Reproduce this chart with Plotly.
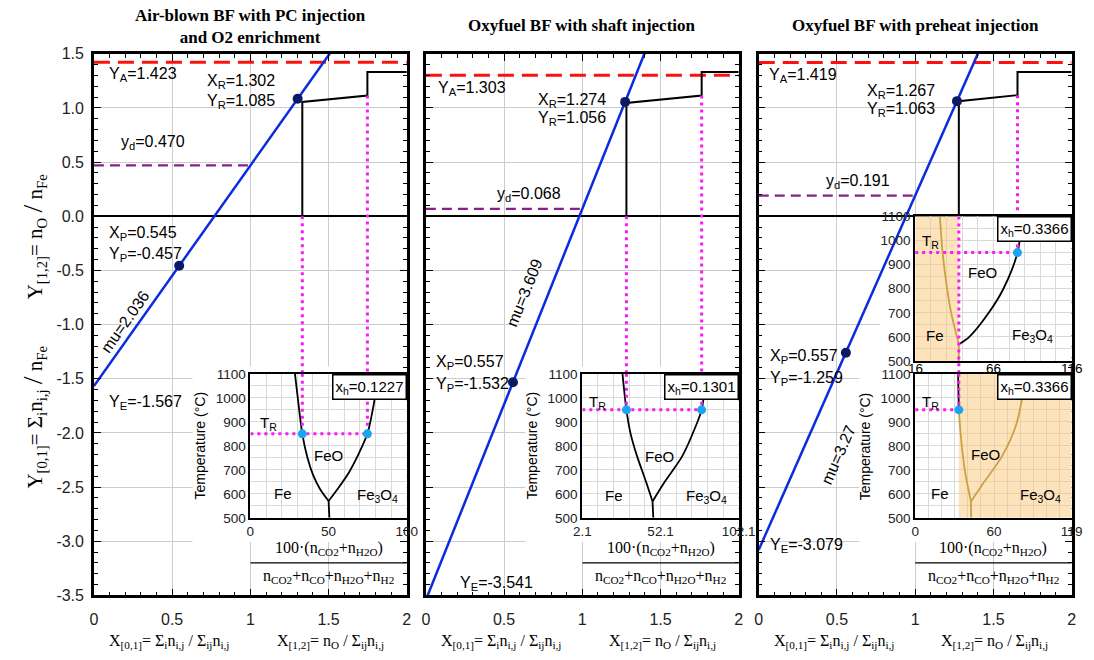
import math
import plotly.graph_objects as go

W, H = 1094, 660
SANS = "Liberation Sans, Arial, sans-serif"
NARROW = "Liberation Sans Narrow, Liberation Sans, Arial, sans-serif"
SERIF = "Liberation Serif, Times New Roman, serif"

# ---------------- data ----------------
panel_titles = ["<b>Air-blown BF with PC injection</b><br><b>and O2 enrichment</b>",
                "<b>Oxyfuel BF with shaft injection</b>",
                "<b>Oxyfuel BF with preheat injection</b>"]
Y_A = [1.423, 1.303, 1.419]
Y_E = [-1.567, -3.541, -3.079]
mu = [2.036, 3.609, 3.27]
X_R = [1.302, 1.274, 1.267]
Y_R = [1.085, 1.056, 1.063]
X_P = [0.545, 0.557, 0.557]
Y_P = [-0.457, -1.532, -1.259]
y_d = [0.470, 0.068, 0.191]
wus_lo = [1.056, 1.046, 1.062]
wus_hi = [1.115, 1.115, 1.118]
mag_level = 1.333

main_xticks = [0, 0.5, 1, 1.5, 2]
main_xtick_text = ["0", "0.5", "1", "1.5", "2"]
main_yticks = [1.5, 1.0, 0.5, 0.0, -0.5, -1.0, -1.5, -2.0, -2.5, -3.0, -3.5]
main_ytick_text = ["1.5", "1.0", "0.5", "0.0", "-0.5", "-1.0", "-1.5", "-2.0", "-2.5", "-3.0", "-3.5"]

# insets: 0 -> panel 1, 1 -> panel 2, 2 -> panel 3 lower, 3 -> panel 3 upper
ins_panel = [0, 1, 2, 2]
ins_ranges = [[0, 100], [2.1, 102.1], [0, 119], [16, 116]]
ins_xlabels = [[0, 50, 100], [2.1, 52.1, 102.1], [0, 60, 119], [16, 66, 116]]
ins_ylabels = [500, 600, 700, 800, 900, 1000, 1100]
x_h = ["0.1227", "0.1301", "0.3366", "0.3366"]
T_R = [850, 950, 950, 950]

fe_feo_x = [[28.5, 30.3, 33.2, 36.5, 40.0, 44.5, 50.0],
            [27.8, 30.3, 33.0, 37.1, 42.9, 47.0],
            [33.2, 35.0, 38.0, 42.4],
            [31.8, 33.5, 36.4, 39.0, 42.7, 43.9]]
fe_feo_T = [[1100, 1000, 850, 750, 680, 620, 570],
            [1100, 950, 850, 757, 649, 568],
            [950, 824, 689, 568],
            [1100, 950, 800, 700, 600, 570]]
fe_feo_top_x = [32.6, 33.2]
fe_feo_top_T = [1100, 950]
feo_fe3o4_x = [[50.0, 56.0, 63.0, 68.5, 74.8, 78.5, 82.0],
               [47.0, 54.7, 66.0, 75.3, 78.4, 81.5],
               [42.4, 52.3, 66.0, 77.0, 84.5],
               [44.2, 50.6, 63.0, 72.4, 81.4, 84.3]]
feo_fe3o4_T = [[570, 622, 689, 757, 850, 960, 1100],
               [568, 649, 757, 893, 950, 1100],
               [568, 648, 756, 891, 1100],
               [570, 600, 700, 800, 950, 1100]]
fe_fe3o4_x = [[50.0, 50.5], [47.0, 47.5], [42.4, 42.6], [43.9, 43.9]]
fe_fe3o4_T = [[570, 500], [568, 500], [568, 500], [570, 500]]
fe_feo_color = ["black", "black", "tan", "tan"]
feo_fe3o4_color = ["black", "black", "tan", "black"]
fe_fe3o4_color = ["black", "black", "tan", "tan"]

# magenta construction lines in inset units: (x, lowest T)
mag_vert = [[(33.2, 850), (74.8, 850)],
            [(30.3, 950), (78.4, 950)],
            [(33.2, 950)],
            [(43.9, 500), (81.4, 950)]]
dots_x = [[33.2, 74.8], [30.3, 78.4], [33.2], [81.4]]
shade_x = [None, None, [33.2, 119], [16, 43.9]]

ins_labels = [
    [("T<sub>R</sub>", 11.4, 893), ("FeO", 50.2, 760), ("Fe", 20.6, 601), ("Fe<sub>3</sub>O<sub>4</sub>", 81, 594)],
    [("T<sub>R</sub>", 11.6, 981), ("FeO", 51.6, 757), ("Fe", 22.3, 595), ("Fe<sub>3</sub>O<sub>4</sub>", 81.5, 588)],
    [("T<sub>R</sub>", 11.4, 979), ("FeO", 53.5, 763), ("Fe", 18.6, 601), ("Fe<sub>3</sub>O<sub>4</sub>", 95.7, 595)],
    [("T<sub>R</sub>", 25.5, 995), ("FeO", 59, 867), ("Fe", 28.5, 604), ("Fe<sub>3</sub>O<sub>4</sub>", 91, 604)],
]

# ---------------- layout constants (pixels) ----------------
PX_L = [87.0, 427.0, 768.0]
PX_R = [407.5, 747.5, 1088.5]
PX_T, PX_B = 47.0, 603.0
Y_LO, Y_HI = -3.5, 1.5
INS_TB = [(375.5, 523.3), (375.5, 523.3), (375.5, 523.3), (214.0, 362.3)]

BLUE = "#0a2be0"
RED = "#ff1010"
PURPLE = "#8a1d8a"
MAGENTA = "#f31ef3"
NAVY = "#0c1a66"
CYAN = "#1aa6ee"
TANC = "#c9a243"
PEACH = "rgba(252,200,120,0.5)"
GRID = "#cccccc"
IGRID = "#d9d9d9"


def fx(px):
    return px / W


def fy(py):
    return 1.0 - py / H


def my(py):
    return Y_HI - (py - PX_T) / (PX_B - PX_T) * (Y_HI - Y_LO)


def mx(p, px):
    return (px - PX_L[p]) / (PX_R[p] - PX_L[p]) * 2.0


def ins_to_main(i, xv):
    r0, r1 = ins_ranges[i]
    return 1.0 + (xv - r0) / (r1 - r0)


MAINX = ["x", "x2", "x3"]
MAINY = ["y", "y2", "y3"]
INSX = ["x4", "x5", "x6", "x7"]
INSY = ["y4", "y5", "y6", "y7"]

fig = go.Figure()


def add_line(xs, ys, xa, ya, color, width, dash="solid", shape="linear"):
    if color == "tan":
        color = TANC
    ln = dict(color=color, width=width, dash=dash, shape=shape)
    if shape == "spline":
        ln["smoothing"] = 0.8
    fig.add_trace(go.Scatter(x=xs, y=ys, xaxis=xa, yaxis=ya, mode="lines", line=ln, hoverinfo="skip"))


# white panels behind insets (cover main grid)
white_boxes = [(0, 188, 368, 548), (1, 529, 368, 548), (2, 892, 215, 372), (2, 871, 368, 548)]
for p, px0, py0, py1 in white_boxes:
    x0, x1, y0, y1 = mx(p, px0), 2.0, my(py0), my(py1)
    fig.add_trace(go.Scatter(x=[x0, x1, x1, x0, x0], y=[y0, y0, y1, y1, y0],
                             xaxis=MAINX[p], yaxis=MAINY[p], mode="lines", fill="toself",
                             fillcolor="white", line=dict(width=0, color="white"), hoverinfo="skip"))

# main panels
first_ins = [0, 1, 3]   # inset whose magenta x positions feed each main panel
main_bnd = [[ins_to_main(i, v) for v, _ in mag_vert[i]] for i in first_ins]
for p in range(3):
    xa, ya = MAINX[p], MAINY[p]
    xd = (y_d[p] - Y_E[p]) / mu[p]
    add_line([0, xd], [y_d[p], y_d[p]], xa, ya, PURPLE, 2.2, dash="10px,6px")
    add_line([0, 2], [Y_A[p], Y_A[p]], xa, ya, RED, 3, dash="16px,8px")
    b0, b1 = main_bnd[p]
    add_line([b0, b0, b1, b1, 2.0], [0, wus_lo[p], wus_hi[p], mag_level, mag_level], xa, ya, "black", 2)
    top_first = my(INS_TB[first_ins[p]][0])
    low_top = my(INS_TB[0][0])
    add_line([b0, b0, None, b1, b1], [0, low_top, None, wus_hi[p], top_first], xa, ya, MAGENTA, 3,
             dash="3px,4px")
    add_line([0, 2], [Y_E[p], Y_E[p] + 2 * mu[p]], xa, ya, BLUE, 2.5)
    fig.add_trace(go.Scatter(x=[X_P[p], X_R[p]], y=[Y_P[p], Y_R[p]], xaxis=xa, yaxis=ya, mode="markers",
                             marker=dict(color=NAVY, size=10, line=dict(width=0)), hoverinfo="skip"))

# insets
for i in range(4):
    xa, ya = INSX[i], INSY[i]
    if shade_x[i] is not None:
        s0, s1 = shade_x[i]
        fig.add_trace(go.Scatter(x=[s0, s1, s1, s0, s0], y=[500, 500, 1100, 1100, 500], xaxis=xa, yaxis=ya,
                                 mode="lines", fill="toself", fillcolor=PEACH, line=dict(width=0, color=PEACH),
                                 hoverinfo="skip"))
    add_line(fe_feo_x[i], fe_feo_T[i], xa, ya, fe_feo_color[i], 1.8, shape="spline")
    if i == 2:
        add_line(fe_feo_top_x, fe_feo_top_T, xa, ya, "black", 1.8)
    add_line(feo_fe3o4_x[i], feo_fe3o4_T[i], xa, ya, feo_fe3o4_color[i], 1.8, shape="spline")
    add_line(fe_fe3o4_x[i], fe_fe3o4_T[i], xa, ya, fe_fe3o4_color[i], 1.8)
    mxs, mys = [], []
    for v, tlow in mag_vert[i]:
        mxs += [v, v, None]
        mys += [1100, tlow, None]
    mxs += [ins_ranges[i][0], max(dots_x[i])]
    mys += [T_R[i], T_R[i]]
    add_line(mxs, mys, xa, ya, MAGENTA, 3, dash="3px,4px")
    fig.add_trace(go.Scatter(x=dots_x[i], y=[T_R[i]] * len(dots_x[i]), xaxis=xa, yaxis=ya, mode="markers",
                             marker=dict(color=CYAN, size=9, line=dict(width=0)), hoverinfo="skip"))

# ---------------- axes ----------------
layout = dict(width=W, height=H, margin=dict(l=0, r=0, t=0, b=0), plot_bgcolor="white",
              paper_bgcolor="white", showlegend=False, font=dict(family=SANS, size=15, color="black"))

for p in range(3):
    xk = "xaxis" if p == 0 else f"xaxis{p + 1}"
    yk = "yaxis" if p == 0 else f"yaxis{p + 1}"
    layout[xk] = dict(domain=[fx(PX_L[p]), fx(PX_R[p])], range=[0, 2], anchor=MAINY[p],
                      tickmode="array", tickvals=main_xticks, ticktext=main_xtick_text,
                      showgrid=True, gridcolor=GRID, gridwidth=1, zeroline=False,
                      showline=True, linecolor="black", linewidth=2.5, mirror="allticks",
                      ticks="inside", ticklen=7, tickwidth=1.3, tickcolor="black",
                      minor=dict(tickmode="linear", tick0=0, dtick=0.1, ticks="inside", ticklen=4,
                                 tickwidth=1, tickcolor="black", showgrid=False),
                      tickfont=dict(family=NARROW, size=16, color="#222"), ticklabelstandoff=8,
                      fixedrange=True)
    layout[yk] = dict(domain=[fy(PX_B), fy(PX_T)], range=[Y_LO, Y_HI], anchor=MAINX[p],
                      tickmode="array", tickvals=main_yticks, ticktext=main_ytick_text,
                      showticklabels=(p == 0),
                      showgrid=True, gridcolor=GRID, gridwidth=1,
                      zeroline=True, zerolinecolor="black", zerolinewidth=1.5,
                      showline=True, linecolor="black", linewidth=2.5, mirror="allticks",
                      ticks="inside", ticklen=7, tickwidth=1.3, tickcolor="black",
                      minor=dict(tickmode="linear", tick0=0, dtick=0.1, ticks="inside", ticklen=4,
                                 tickwidth=1, tickcolor="black", showgrid=False),
                      tickfont=dict(family=SANS, size=16, color="#222"), ticklabelstandoff=4,
                      fixedrange=True)

for i in range(4):
    p = ins_panel[i]
    r0, r1 = ins_ranges[i]
    gx = []
    v = r0
    while v <= r1 + 1e-9:
        gx.append(round(v, 4))
        v += 10
    if abs(gx[-1] - r1) > 1e-6:
        gx.append(r1)
    gxt = [f"{g:g}" if any(abs(g - l) < 1e-6 for l in ins_xlabels[i]) else "" for g in gx]
    gy = list(range(500, 1101, 50))
    gyt = [str(g) if g in ins_ylabels else "" for g in gy]
    top, bot = INS_TB[i]
    x0px = PX_L[p] + 0.5 * (PX_R[p] - PX_L[p])
    layout[f"xaxis{i + 4}"] = dict(domain=[fx(x0px), fx(PX_R[p])], range=[r0, r1], anchor=INSY[i],
                                   tickmode="array", tickvals=gx, ticktext=gxt, showgrid=True,
                                   showticklabels=(i != 3),
                                   gridcolor=IGRID, gridwidth=1, zeroline=False, showline=True,
                                   linecolor="black", linewidth=2, mirror=True, ticks="",
                                   tickfont=dict(family=SANS, size=13.5, color="#222"), fixedrange=True)
    layout[f"yaxis{i + 4}"] = dict(domain=[fy(bot), fy(top)], range=[500, 1100], anchor=INSX[i],
                                   tickmode="array", tickvals=gy, ticktext=gyt, showgrid=True,
                                   gridcolor=IGRID, gridwidth=1, zeroline=False, showline=True,
                                   linecolor="black", linewidth=2, mirror=True, ticks="",
                                   tickfont=dict(family=SANS, size=13.5, color="#222"), fixedrange=True)

# ---------------- annotations ----------------
ann = []
shapes = []


def A(text, x, y, xref="paper", yref="paper", size=16, family=SANS, xanchor="center", yanchor="middle",
      angle=0, **kw):
    d = dict(text=text, x=x, y=y, xref=xref, yref=yref, showarrow=False, xanchor=xanchor, yanchor=yanchor,
             textangle=angle, font=dict(family=family, size=size, color="black"))
    d.update(kw)
    ann.append(d)


title_y = [19, 18, 18]
for p in range(3):
    A(panel_titles[p], fx((PX_L[p] + PX_R[p]) / 2), fy(title_y[p]), size=17, family=SERIF)

lab_YA = [(0.081, 1.305), (0.062, 1.176), (0.05, 1.301)]
lab_XR = [(1.17, 1.248), (1.162, 1.071), (1.14, 1.153)]
lab_YR = [(1.17, 1.058), (1.162, 0.905), (1.14, 0.982)]
lab_yd = [(0.38, 0.678), (0.66, 0.204), (0.635, 0.318)]
lab_XP = [(0.081, -0.159), (0.05, -1.351), (0.062, -1.295)]
lab_YP = [(0.081, -0.349), (0.05, -1.55), (0.062, -1.494)]
lab_YE = [(0.081, -1.72), (0.206, -3.39), (0.062, -3.04)]
lab_mu = [(0.20, -0.97), (0.63, -0.70), (0.51, -2.2)]

for p in range(3):
    xr, yr = MAINX[p], MAINY[p]
    A(f"Y<sub>A</sub>={Y_A[p]:.3f}", *lab_YA[p], xref=xr, yref=yr, xanchor="left")
    A(f"X<sub>R</sub>={X_R[p]:.3f}", *lab_XR[p], xref=xr, yref=yr, xanchor="right")
    A(f"Y<sub>R</sub>={Y_R[p]:.3f}", *lab_YR[p], xref=xr, yref=yr, xanchor="right")
    A(f"y<sub>d</sub>={y_d[p]:.3f}", *lab_yd[p], xref=xr, yref=yr)
    A(f"X<sub>P</sub>={X_P[p]:.3f}", *lab_XP[p], xref=xr, yref=yr, xanchor="left")
    A(f"Y<sub>P</sub>={Y_P[p]:.3f}", *lab_YP[p], xref=xr, yref=yr, xanchor="left")
    A(f"Y<sub>E</sub>={Y_E[p]:.3f}", *lab_YE[p], xref=xr, yref=yr, xanchor="left")
    sx = (PX_R[p] - PX_L[p]) / 2.0
    sy = (PX_B - PX_T) / (Y_HI - Y_LO)
    th = math.degrees(math.atan(mu[p] * sy / sx))
    A(f"mu={mu[p]:g}", *lab_mu[p], xref=xr, yref=yr, angle=-th)

for i in range(4):
    xr, yr = INSX[i], INSY[i]
    for t, lx, ly in ins_labels[i]:
        A(t, lx, ly, xref=xr, yref=yr, size=15)
    A(f"x<sub>h</sub>={x_h[i]}", ins_ranges[i][1], 1100, xref=xr, yref=yr, xanchor="right", yanchor="top",
      size=15, bordercolor="black", borderwidth=1.5, borderpad=2, bgcolor="white")
    p = ins_panel[i]
    x0px = PX_L[p] + 0.5 * (PX_R[p] - PX_L[p])
    top, bot = INS_TB[i]
    if i != 3:
        A("Temperature (°C)", fx(x0px - 52), fy((top + bot) / 2), size=14, angle=-90)
    else:
        for lv in ins_xlabels[i]:
            A(f"{lv:g}", lv, fy(bot + 8), xref=xr, yref="paper", size=13.5)

# fraction labels under insets and x-axis titles
for p in range(3):
    cx = PX_L[p] + 0.75 * (PX_R[p] - PX_L[p])
    A("100·(n<sub>CO2</sub>+n<sub>H2O</sub>)", fx(cx), fy(555), size=16, family=SERIF)
    A("n<sub>CO2</sub>+n<sub>CO</sub>+n<sub>H2O</sub>+n<sub>H2</sub>", fx(cx), fy(584), size=16, family=SERIF)
    shapes.append(dict(type="line", xref="paper", yref="paper", x0=fx(cx - 80), x1=fx(cx + 80),
                       y0=fy(569.5), y1=fy(569.5), line=dict(color="black", width=1.3)))
    A("X<sub>[0,1]</sub>= Σ<sub>i</sub>n<sub>i,j</sub> / Σ<sub>ij</sub>n<sub>i,j</sub>",
      fx(PX_L[p] + 77), fy(650), size=16, family=SERIF)
    A("X<sub>[1,2]</sub>= n<sub>O</sub> / Σ<sub>ij</sub>n<sub>i,j</sub>",
      fx(PX_L[p] + 242), fy(650), size=16, family=SERIF)

A("Y<sub>[1,2]</sub>= n<sub>O</sub> <span style='font-size:28px'>/</span> n<sub>Fe</sub>",
  fx(25), fy(235), size=21, family=SERIF, angle=-90)
A("Y<sub>[0,1]</sub>= Σ<sub>i</sub>n<sub>i,j</sub> <span style='font-size:28px'>/</span> n<sub>Fe</sub>",
  fx(25), fy(420), size=21, family=SERIF, angle=-90)

layout["annotations"] = ann
layout["shapes"] = shapes
fig.update_layout(**layout)
fig.write_html("out.html", config={"displayModeBar": False},
               post_script="document.body.style.margin='0';document.body.style.overflow='hidden';")
